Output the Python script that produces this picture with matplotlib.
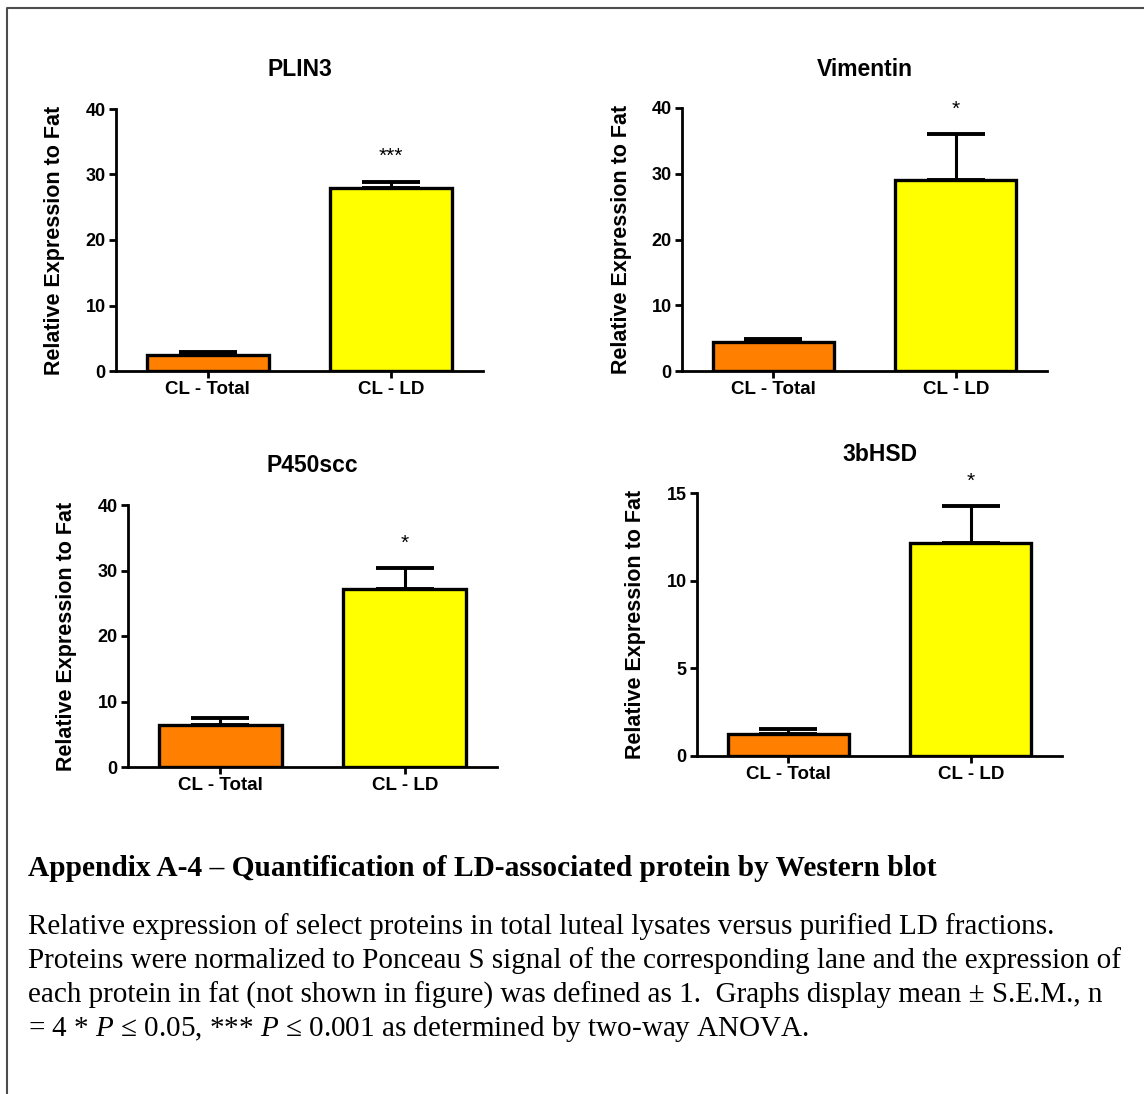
import numpy as np
import matplotlib
matplotlib.use('Agg')
import matplotlib.pyplot as plt
from matplotlib.lines import Line2D

plt.rcParams['font.family'] = ['Liberation Sans', 'DejaVu Sans']
plt.rcParams['mathtext.fontset'] = 'custom'
plt.rcParams['mathtext.rm'] = 'Liberation Serif'
plt.rcParams['mathtext.it'] = 'Liberation Serif:italic'

# data
groups = ['CL - Total', 'CL - LD']
proteins = ['PLIN3', 'Vimentin', 'P450scc', '3bHSD']
means = {
    'PLIN3': [2.4, 28.0],
    'Vimentin': [4.4, 29.0],
    'P450scc': [6.4, 27.2],
    '3bHSD': [1.25, 12.15],
}
sems = {
    'PLIN3': [0.5, 0.9],
    'Vimentin': [0.45, 7.0],
    'P450scc': [1.1, 3.2],
    '3bHSD': [0.27, 2.1],
}
stars = {'PLIN3': '***', 'Vimentin': '*', 'P450scc': '*', '3bHSD': '*'}
ymax = {'PLIN3': 40, 'Vimentin': 40, 'P450scc': 40, '3bHSD': 15}
yticks = {'PLIN3': [0, 10, 20, 30, 40], 'Vimentin': [0, 10, 20, 30, 40],
          'P450scc': [0, 10, 20, 30, 40], '3bHSD': [0, 5, 10, 15]}

bar_colors = ['#FF8000', '#FFFF00']

W, H = 1144, 1094
fig = plt.figure(figsize=(W / 100, H / 100), dpi=100)

# axes boxes in pixels: left, right, top (ymax), bottom (0)
boxes = {
    'PLIN3': (116, 483, 109, 371),
    'Vimentin': (682, 1047, 108, 371),
    'P450scc': (128, 497, 505, 767),
    '3bHSD': (697, 1062, 493, 756),
}

for name in proteins:
    l, r, t, b = boxes[name]
    ax = fig.add_axes([l / W, 1 - b / H, (r - l) / W, (b - t) / H])
    x = np.arange(len(groups))
    m = means[name]
    s = sems[name]
    ax.errorbar(x, m, yerr=[np.zeros(len(s)), s], fmt='none', ecolor='black',
                elinewidth=2.2, capsize=21, capthick=2.8, zorder=1)
    ax.bar(x, m, width=0.665, color=bar_colors, edgecolor='black',
           linewidth=2.4, zorder=2)
    ax.annotate(stars[name], (x[1], m[1] + s[1]), xytext=(0, 14),
                textcoords='offset points', ha='center', va='baseline',
                fontsize=15)
    ax.set_xlim(-0.5, 1.5)
    ax.set_ylim(0, ymax[name])
    ax.set_yticks(yticks[name])
    ax.set_xticks(x)
    ax.set_xticklabels(groups, fontsize=13.5, fontweight='bold')
    for lab in ax.get_yticklabels():
        lab.set_fontsize(13)
        lab.set_fontweight('bold')
    ax.spines['top'].set_visible(False)
    ax.spines['right'].set_visible(False)
    ax.spines['left'].set_linewidth(2)
    ax.spines['bottom'].set_linewidth(2)
    ax.tick_params(axis='both', direction='out', length=5, width=2, pad=2.5)
    ax.set_ylabel('Relative Expression to Fat', fontsize=15.5, fontweight='bold',
                  va='center')
    ax.yaxis.set_label_coords(-61 / (r - l), 0.5)
    ax.text(0.5, 1 + 39 / (b - t), name, transform=ax.transAxes,
            ha='center', va='center', fontsize=16.5, fontweight='bold')

# frame around figure (left and top only visible)
fig.add_artist(Line2D([7 / W, 7 / W, 1.0], [0.0, 1 - 8 / H, 1 - 8 / H],
                      transform=fig.transFigure, color='#4d4d4d', linewidth=1.5))

serif = ['Liberation Serif', 'DejaVu Serif']
fig.text(28 / W, 1 - 868 / H,
         'Appendix A-4 \u2013 Quantification of LD-associated protein by Western blot',
         family=serif, fontsize=21.2, fontweight='bold', va='center', ha='left')
body = [
    'Relative expression of select proteins in total luteal lysates versus purified LD fractions.',
    'Proteins were normalized to Ponceau S signal of the corresponding lane and the expression of',
    'each protein in fat (not shown in figure) was defined as 1.  Graphs display mean \u00b1 S.E.M., n',
    '= 4 * $P$ \u2264 0.05, *** $P$ \u2264 0.001 as determined by two-way ANOVA.',
]
for i, line in enumerate(body):
    fig.text(28 / W, 1 - (927 + 34 * i) / H, line, family=serif, fontsize=21,
             va='center', ha='left')

fig.savefig('out.png', dpi=100)
